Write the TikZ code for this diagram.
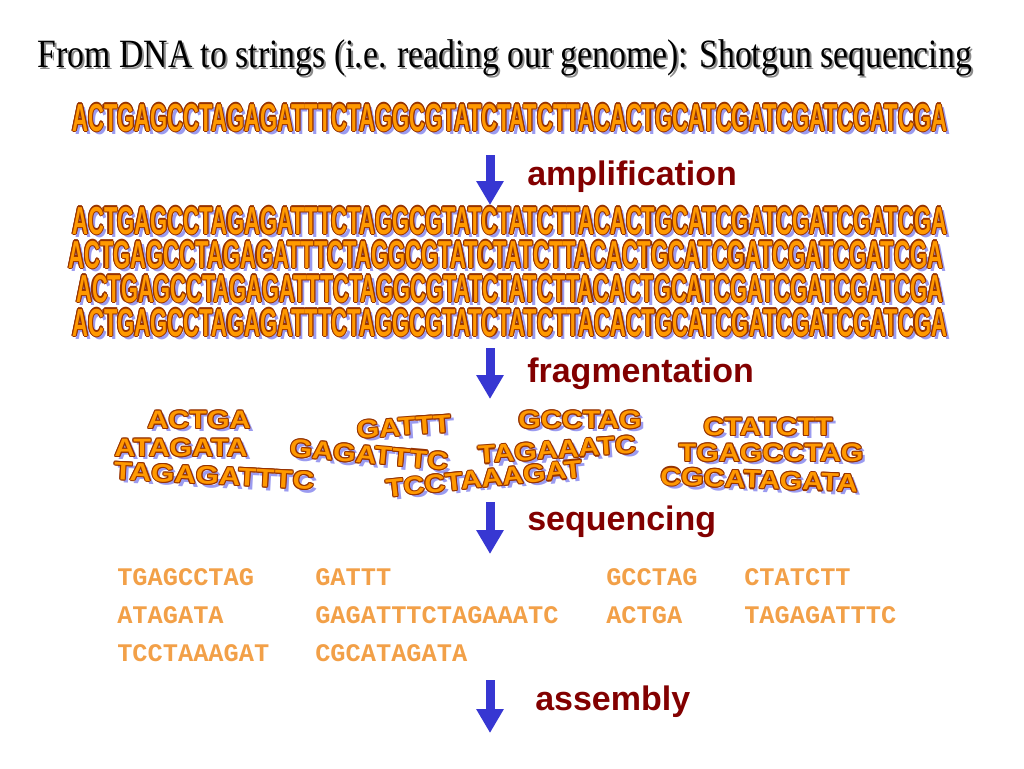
\documentclass[tikz,border=0pt]{standalone}
\usepackage{fontspec}
\setmainfont{Liberation Serif}
\newfontfamily\arialfont{Liberation Sans}
\newfontfamily\courierfont{Liberation Mono}
\usetikzlibrary{arrows.meta}

\definecolor{wordfill}{RGB}{255,153,0}
\definecolor{wordline}{RGB}{150,50,0}
\definecolor{wordshade}{RGB}{155,155,240}
\definecolor{readorange}{RGB}{242,160,72}
\definecolor{arrowblue}{RGB}{55,55,210}
\definecolor{labelred}{RGB}{130,0,0}

% one shifted copy of a text
\newcommand{\wordcopy}[4]{\makebox[0pt][l]{\hspace{#1}\raisebox{#2}{\color{#3}#4}}}
% WordArt look: shadow, outline, fill (#1 = horizontal scale)
\newcommand{\wordart}[2]{%
  \def\wordtext{\scalebox{#1}[1]{#2}}%
  \wordcopy{2.6pt}{-2.6pt}{wordshade}{\wordtext}%
  \wordcopy{0.8pt}{0pt}{wordline}{\wordtext}%
  \wordcopy{-0.8pt}{0pt}{wordline}{\wordtext}%
  \wordcopy{0pt}{0.8pt}{wordline}{\wordtext}%
  \wordcopy{0pt}{-0.8pt}{wordline}{\wordtext}%
  \wordcopy{0.6pt}{0.6pt}{wordline}{\wordtext}%
  \wordcopy{-0.6pt}{0.6pt}{wordline}{\wordtext}%
  \wordcopy{0.6pt}{-0.6pt}{wordline}{\wordtext}%
  \wordcopy{-0.6pt}{-0.6pt}{wordline}{\wordtext}%
  {\color{wordfill}\wordtext}}
% title with a grey drop shadow
\newcommand{\shadowed}[1]{\wordcopy{1.5pt}{-1.5pt}{black!45}{#1}#1}

\begin{document}
\begin{tikzpicture}[x=0.75pt, y=-0.75pt,
  genome/.style={anchor=base west, inner sep=0pt,
    font=\arialfont\bfseries\fontsize{29.3}{30}\selectfont},
  fragment/.style={inner sep=0pt,
    font=\arialfont\bfseries\fontsize{18.9}{19}\selectfont},
  read/.style={anchor=base west, inner sep=0pt, text=readorange,
    font=\courierfont\bfseries\fontsize{19}{20}\selectfont},
  stage/.style={anchor=base west, inner sep=0pt, text=labelred,
    font=\arialfont\bfseries\fontsize{25.5}{26}\selectfont},
  flow/.style={line width=6.75pt, arrowblue, -{Triangle[width=19.5pt,length=18pt]}}
]
\useasboundingbox (0,0) rectangle (1024,768);

% Title
\node[anchor=base, inner sep=0pt, font=\fontsize{25.3}{27}\selectfont] (title) at (505,67)
  {\shadowed{\scalebox{1}[1.19]{From DNA to strings (i.e. reading our genome): Shotgun sequencing}}};

% Genome
\node[genome] (genome) at (72,131) {\wordart{0.563}{ACTGAGCCTAGAGATTTCTAGGCGTATCTATCTTACACTGCATCGATCGATCGATCGA}};

% Copies
\node[genome] (copy1) at (72,234) {\wordart{0.563}{ACTGAGCCTAGAGATTTCTAGGCGTATCTATCTTACACTGCATCGATCGATCGATCGA}};
\node[genome] (copy2) at (68,268) {\wordart{0.563}{ACTGAGCCTAGAGATTTCTAGGCGTATCTATCTTACACTGCATCGATCGATCGATCGA}};
\node[genome] (copy3) at (76,302) {\wordart{0.558}{ACTGAGCCTAGAGATTTCTAGGCGTATCTATCTTACACTGCATCGATCGATCGATCGA}};
\node[genome] (copy4) at (72,336) {\wordart{0.563}{ACTGAGCCTAGAGATTTCTAGGCGTATCTATCTTACACTGCATCGATCGATCGATCGA}};

% Fragments
\node[fragment] (frag1) at (199,421) {\wordart{1.15}{ACTGA}};
\node[fragment] (frag2) at (181,449) {\wordart{1.15}{ATAGATA}};
\node[fragment, rotate=-3] (frag3) at (214,477) {\wordart{1.18}{TAGAGATTTC}};
\node[fragment, rotate=4] (frag4) at (404,428) {\wordart{1.15}{GATTT}};
\node[fragment, rotate=-5] (frag5) at (369,456) {\wordart{1.15}{GAGATTTC}};
\node[fragment] (frag6) at (580,421) {\wordart{1.15}{GCCTAG}};
\node[fragment, rotate=4] (frag7) at (557,451) {\wordart{1.15}{TAGAAATC}};
\node[fragment, rotate=6] (frag8) at (484,480) {\wordart{1.15}{TCCTAAAGAT}};
\node[fragment] (frag9) at (768,428) {\wordart{1.15}{CTATCTT}};
\node[fragment] (frag10) at (771,454) {\wordart{1.15}{TGAGCCTAG}};
\node[fragment, rotate=-2] (frag11) at (759,481) {\wordart{1.15}{CGCATAGATA}};

% Reads
\node[read] (read1) at (117,585) {TGAGCCTAG};
\node[read] (read2) at (315,585) {GATTT};
\node[read] (read3) at (606,585) {GCCTAG};
\node[read] (read4) at (744,585) {CTATCTT};
\node[read] (read5) at (117,623) {ATAGATA};
\node[read] (read6) at (315,623) {GAGATTTCTAGAAATC};
\node[read] (read7) at (606,623) {ACTGA};
\node[read] (read8) at (744,623) {TAGAGATTTC};
\node[read] (read9) at (117,661) {TCCTAAAGAT};
\node[read] (read10) at (315,661) {CGCATAGATA};

% Steps
\coordinate (amp top) at (490,155);
\coordinate (amp tip) at (490,205);
\coordinate (frag top) at (490,348);
\coordinate (frag tip) at (490,399);
\coordinate (seq top) at (490,502);
\coordinate (seq tip) at (490,554);
\coordinate (asm top) at (490,680);
\coordinate (asm tip) at (490,733);
\draw[flow] (amp top) -- (amp tip);
\draw[flow] (frag top) -- (frag tip);
\draw[flow] (seq top) -- (seq tip);
\draw[flow] (asm top) -- (asm tip);
\node[stage] (amplification) at (527,185) {amplification};
\node[stage] (fragmentation) at (527,382) {fragmentation};
\node[stage] (sequencing) at (527,530) {sequencing};
\node[stage] (assembly) at (535,710) {assembly};

\end{tikzpicture}
\end{document}
